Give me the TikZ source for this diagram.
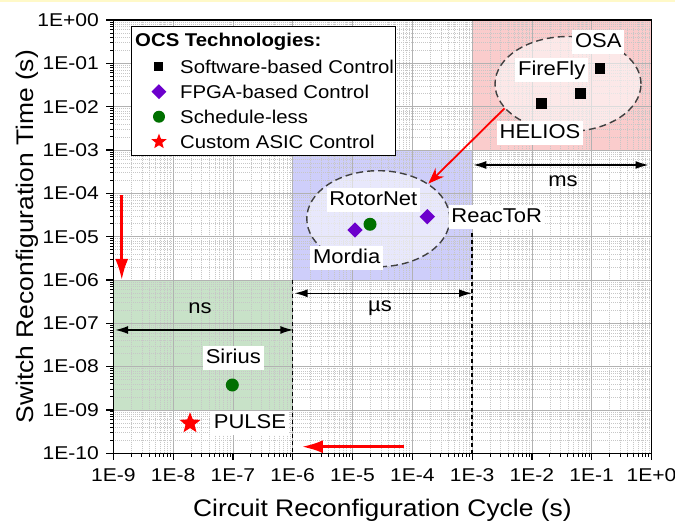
\documentclass[tikz,border=0pt]{standalone}
\usepackage{fontspec}
\setmainfont{Liberation Sans}
\usetikzlibrary{positioning,arrows.meta,shapes.geometric}
\definecolor{msred}{RGB}{250,204,204}
\definecolor{usblue}{RGB}{206,206,250}
\definecolor{nsgreen}{RGB}{200,226,200}
\definecolor{fpga}{RGB}{108,0,204}
\definecolor{sched}{RGB}{0,112,0}
\definecolor{banner}{RGB}{255,249,200}
\definecolor{ringgray}{RGB}{64,64,64}

\begin{document}
\begin{tikzpicture}[
  x=59.8pt, y=43.33pt,
  font=\fontsize{20}{24}\selectfont,
  major/.style={draw=black!30, line width=0.6pt},
  minor/.style={draw=black!22, line width=0.5pt, dash pattern=on 1pt off 1pt},
  frame/.style={draw=black, line width=1.5pt},
  tk/.style={draw=black, line width=1.2pt},
  ticklbl/.style={font=\fontsize{18.5}{20}\selectfont, xscale=1.14, inner sep=1pt},
  ttl/.style={font=\fontsize{24}{28}\selectfont, xscale=1.1, inner sep=0pt},
  lbl/.style={fill=white, inner sep=2.5pt, text height=15pt, text depth=4pt, xscale=1.1},
  plain/.style={inner sep=1pt, xscale=1.1},
  ring/.style={ellipse, draw=ringgray, line width=1.4pt, dash pattern=on 7pt off 4pt,
               fill=white, fill opacity=0.55, inner sep=0pt},
  sq/.style={rectangle, fill=black, minimum size=10.5pt, inner sep=0pt},
  dia/.style={diamond, fill=fpga, minimum size=15.5pt, inner sep=0pt},
  dot/.style={circle, fill=sched, minimum size=13pt, inner sep=0pt},
  asic/.style={star, star points=5, star point ratio=2.3, fill=red, minimum size=22pt, inner sep=0pt},
  leg/.style={anchor=west, inner sep=0pt, xscale=1.1, font=\fontsize{18.5}{22}\selectfont},
  span/.style={{Latex[length=13pt,width=8pt]}-{Latex[length=13pt,width=8pt]}, line width=1.5pt},
  hint/.style={-{Latex[length=21pt,width=13pt]}, draw=red, line width=2.6pt},
  jump/.style={-{Stealth[length=16pt,width=12pt]}, draw=red, line width=1.8pt},
]
% page, top band
\fill[white] (-10.895,-11.608) rectangle (0.393,0.4616);
\fill[banner] (-10.895,0.4155) rectangle (0.393,0.4616);
\useasboundingbox (-10.895,-11.608) rectangle (0.393,0.4616);

% speed classes
\fill[msred] (-3,0) rectangle (0,-3);
\fill[usblue] (-6,-3) rectangle (-3,-6);
\fill[nsgreen] (-9,-6) rectangle (-6,-9);

% grid
\foreach \d in {-9,...,-1}
  \foreach \k in {2,...,9}
    \draw[minor] ({\d+log10(\k)},-10) -- ({\d+log10(\k)},0);
\foreach \d in {-10,...,-1}
  \foreach \k in {2,...,9}
    \draw[minor] (-9,{\d+log10(\k)}) -- (0,{\d+log10(\k)});
\foreach \e in {-8,...,-1} \draw[major] (\e,-10) -- (\e,0);
\foreach \e in {-9,...,-1} \draw[major] (-9,\e) -- (0,\e);

% clusters
\node[ring, minimum width=146pt, minimum height=95pt] (slow) at (-1.396,-1.477) {};
\node[ring, minimum width=143pt, minimum height=96pt] (fast) at (-4.569,-4.586) {};

% class limits
\draw[line width=1.4pt, dash pattern=on 4pt off 3pt] (-6,-6) -- (-6,-10);
\draw[line width=1.4pt, dash pattern=on 4pt off 3pt] (-3,-4.92) -- (-3,-10);

\coordinate (ms-a) at (-2.98,-3.346);
\coordinate (ms-b) at (-0.05,-3.346);
\coordinate (us-a) at (-5.97,-6.307);
\coordinate (us-b) at (-3.0,-6.307);
\coordinate (ns-a) at (-8.97,-7.154);
\coordinate (ns-b) at (-5.99,-7.154);
\draw[span] (ms-a) -- (ms-b);
\draw[span] (us-a) -- (us-b);
\draw[span] (ns-a) -- (ns-b);
\node[plain] (ms) at (-1.48,-3.716) {ms};
\node[plain] (us) at (-4.54,-6.647) {µs};
\node[plain] (ns) at (-7.55,-6.654) {ns};

% trends
\coordinate (down-a) at (-8.859,-4.04);
\coordinate (down-b) at (-8.859,-6.0);
\coordinate (left-a) at (-4.139,-9.848);
\coordinate (left-b) at (-5.845,-9.848);
\draw[hint] (down-a) -- (down-b);
\draw[hint] (left-a) -- (left-b);
\draw[jump] (slow.201) -- (fast.35);

% data
\node[sq] (osa-pt) at (-0.861,-1.115) {};
\node[sq] (firefly-pt) at (-1.184,-1.692) {};
\node[sq] (helios-pt) at (-1.836,-1.922) {};
\node[dia] (mordia-pt) at (-4.958,-4.846) {};
\node[dia] (reactor-pt) at (-3.749,-4.540) {};
\node[dot] (rotornet-pt) at (-4.707,-4.715) {};
\node[dot] (sirius-pt) at (-7.010,-8.424) {};
\node[asic] (pulse-pt) at (-7.717,-9.308) {};

\node[lbl] (osa) at (-0.890,-0.501) {OSA};
\node[lbl] (firefly) at (-1.669,-1.154) {FireFly};
\node[lbl] (helios) at (-1.865,-2.615) {HELIOS};
\node[lbl] (rotornet) at (-4.652,-4.154) {RotorNet};
\node[lbl] (reactor) at (-2.589,-4.553) {ReacToR};
\node[lbl] (mordia) at (-5.097,-5.500) {Mordia};
\node[lbl] (sirius) at (-6.993,-7.807) {Sirius};
\node[lbl] (pulse) at (-6.714,-9.308) {PULSE};

% legend
\node[draw=black, line width=0.8pt, fill=white, minimum width=263.3pt, minimum height=129pt,
      inner sep=0pt] (legend) at (-6.491,-1.643) {};
\node[leg, font=\fontsize{18.5}{22}\selectfont\bfseries] (leg-title) at (-8.637,-0.501) {OCS Technologies:};
\node[sq, minimum size=9pt] (leg-sq) at (-8.236,-1.078) {};
\node[dia, minimum size=15pt] (leg-dia) at (-8.236,-1.654) {};
\node[dot, minimum size=12pt] (leg-dot) at (-8.236,-2.232) {};
\node[asic, minimum size=16pt] (leg-star) at (-8.236,-2.809) {};
\node[leg] (leg-soft) at (-7.885,-1.078) {Software-based Control};
\node[leg] (leg-fpga) at (-7.885,-1.654) {FPGA-based Control};
\node[leg] (leg-free) at (-7.885,-2.232) {Schedule-less};
\node[leg] (leg-asic) at (-7.885,-2.809) {Custom ASIC Control};

% axes
\draw[frame] (-9,-10) rectangle (0,0);
\foreach \e/\t [count=\i] in {0/1E+00,-1/1E-01,-2/1E-02,-3/1E-03,-4/1E-04,-5/1E-05,
                              -6/1E-06,-7/1E-07,-8/1E-08,-9/1E-09,-10/1E-10} {
  \draw[tk] (-9,\e) -- ++(-7pt,0);
  \node[ticklbl, anchor=east] (ytick\i) at ([xshift=-13pt]-9,\e) {\t};
}
\foreach \e/\t [count=\i] in {-9/1E-9,-8/1E-8,-7/1E-7,-6/1E-6,-5/1E-5,
                              -4/1E-4,-3/1E-3,-2/1E-2,-1/1E-1,0/1E+0} {
  \draw[tk] (\e,-10) -- ++(0,-7pt);
  \node[ticklbl, anchor=base] (xtick\i) at ([yshift=-28pt]\e,-10) {\t};
}
\foreach \d in {-9,...,-1}
  \foreach \k in {2,...,9}
    \draw[tk, line width=0.9pt] ({\d+log10(\k)},-10) -- ++(0,-3.5pt);
\foreach \d in {-10,...,-1}
  \foreach \k in {2,...,9}
    \draw[tk, line width=0.9pt] (-9,{\d+log10(\k)}) -- ++(-3.5pt,0);

\node[ttl, anchor=base] (xtitle) at ([yshift=-63pt]-4.5,-10) {Circuit Reconfiguration Cycle (s)};
\node[rotate=90, ttl, anchor=base] (ytitle) at (-10.338,-5) {Switch Reconfiguration Time (s)};
\end{tikzpicture}
\end{document}
